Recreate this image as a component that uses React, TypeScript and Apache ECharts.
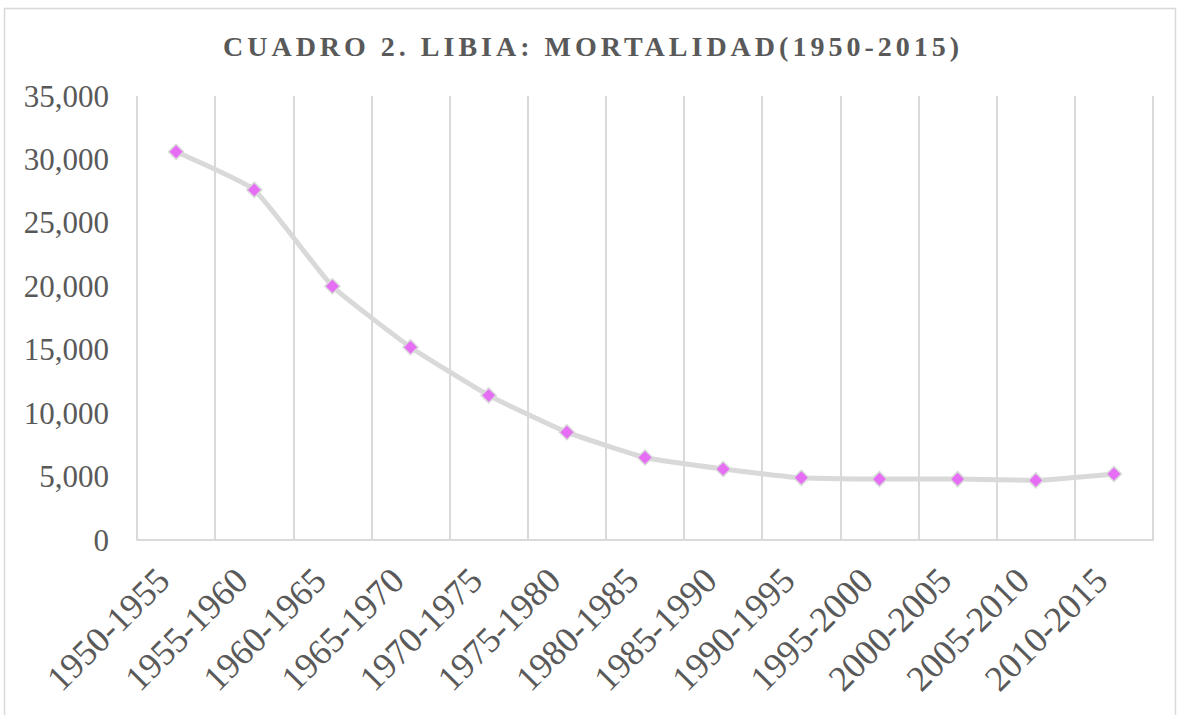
import React, { useEffect, useRef } from "react";
import * as echarts from "echarts";

const TITLE = "CUADRO 2. LIBIA: MORTALIDAD(1950-2015)";
const categories = [
  "1950-1955", "1955-1960", "1960-1965", "1965-1970", "1970-1975",
  "1975-1980", "1980-1985", "1985-1990", "1990-1995", "1995-2000",
  "2000-2005", "2005-2010", "2010-2015",
];
const mortalidad = [30600, 27600, 20000, 15200, 11400, 8500, 6500, 5600, 4900, 4800, 4800, 4700, 5200];
const yMin = 0;
const yMax = 35000;
const yInterval = 5000;

const FONT = "'Liberation Serif', 'Times New Roman', serif";

export default function App() {
  const ref = useRef<HTMLDivElement>(null);
  useEffect(() => {
    if (!ref.current) return;
    const chart = echarts.init(ref.current, undefined, { renderer: "svg" });
    chart.setOption({
      animation: false,
      backgroundColor: "#ffffff",
      graphic: [
        {
          type: "rect",
          shape: { x: 4.5, y: 8.5, width: 1171, height: 720 },
          style: { fill: "none", stroke: "#d9d9d9", lineWidth: 1.5 },
          silent: true,
        },
        {
          type: "text",
          id: "title",
          x: 593,
          y: 46,
          style: {
            text: TITLE,
            fill: "#595959",
            font: `bold 28px ${FONT}`,
            align: "center",
            verticalAlign: "middle",
          },
        },
      ],
      grid: { left: 137, right: 24, top: 96, bottom: 175, containLabel: false },
      xAxis: {
        type: "category",
        data: categories,
        boundaryGap: true,
        axisLine: { show: true, lineStyle: { color: "#d9d9d9", width: 2 } },
        axisTick: { show: false },
        splitLine: { show: true, lineStyle: { color: "#d9d9d9", width: 2 } },
        axisLabel: {
          interval: 0,
          rotate: 45,
          margin: 47,
          align: "right",
          verticalAlign: "bottom",
          color: "#595959",
          fontFamily: FONT,
          fontSize: 36,
        },
      },
      yAxis: {
        type: "value",
        min: yMin,
        max: yMax,
        interval: yInterval,
        axisLine: { show: false },
        axisTick: { show: false },
        splitLine: { show: false },
        axisLabel: {
          margin: 28,
          color: "#595959",
          fontFamily: FONT,
          fontSize: 31,
          formatter: (v: number) => v.toLocaleString("en-US"),
        },
      },
      series: [
        {
          type: "line",
          data: mortalidad,
          smooth: 0.13,
          lineStyle: { color: "#d9d9d9", width: 5 },
          symbol: "diamond",
          symbolSize: 15,
          itemStyle: { color: "#e66ef5", borderColor: "#d9d9d9", borderWidth: 1.5 },
        },
      ],
    });
    const texts = ref.current.querySelectorAll("text");
    texts.forEach((t) => {
      if (t.textContent === TITLE) {
        t.setAttribute("letter-spacing", "4px");
      }
    });
    return () => chart.dispose();
  }, []);
  return (
    <div
      ref={ref}
      style={{ position: "fixed", left: 0, top: 0, width: 1177, height: 715, background: "#fff" }}
    />
  );
}
